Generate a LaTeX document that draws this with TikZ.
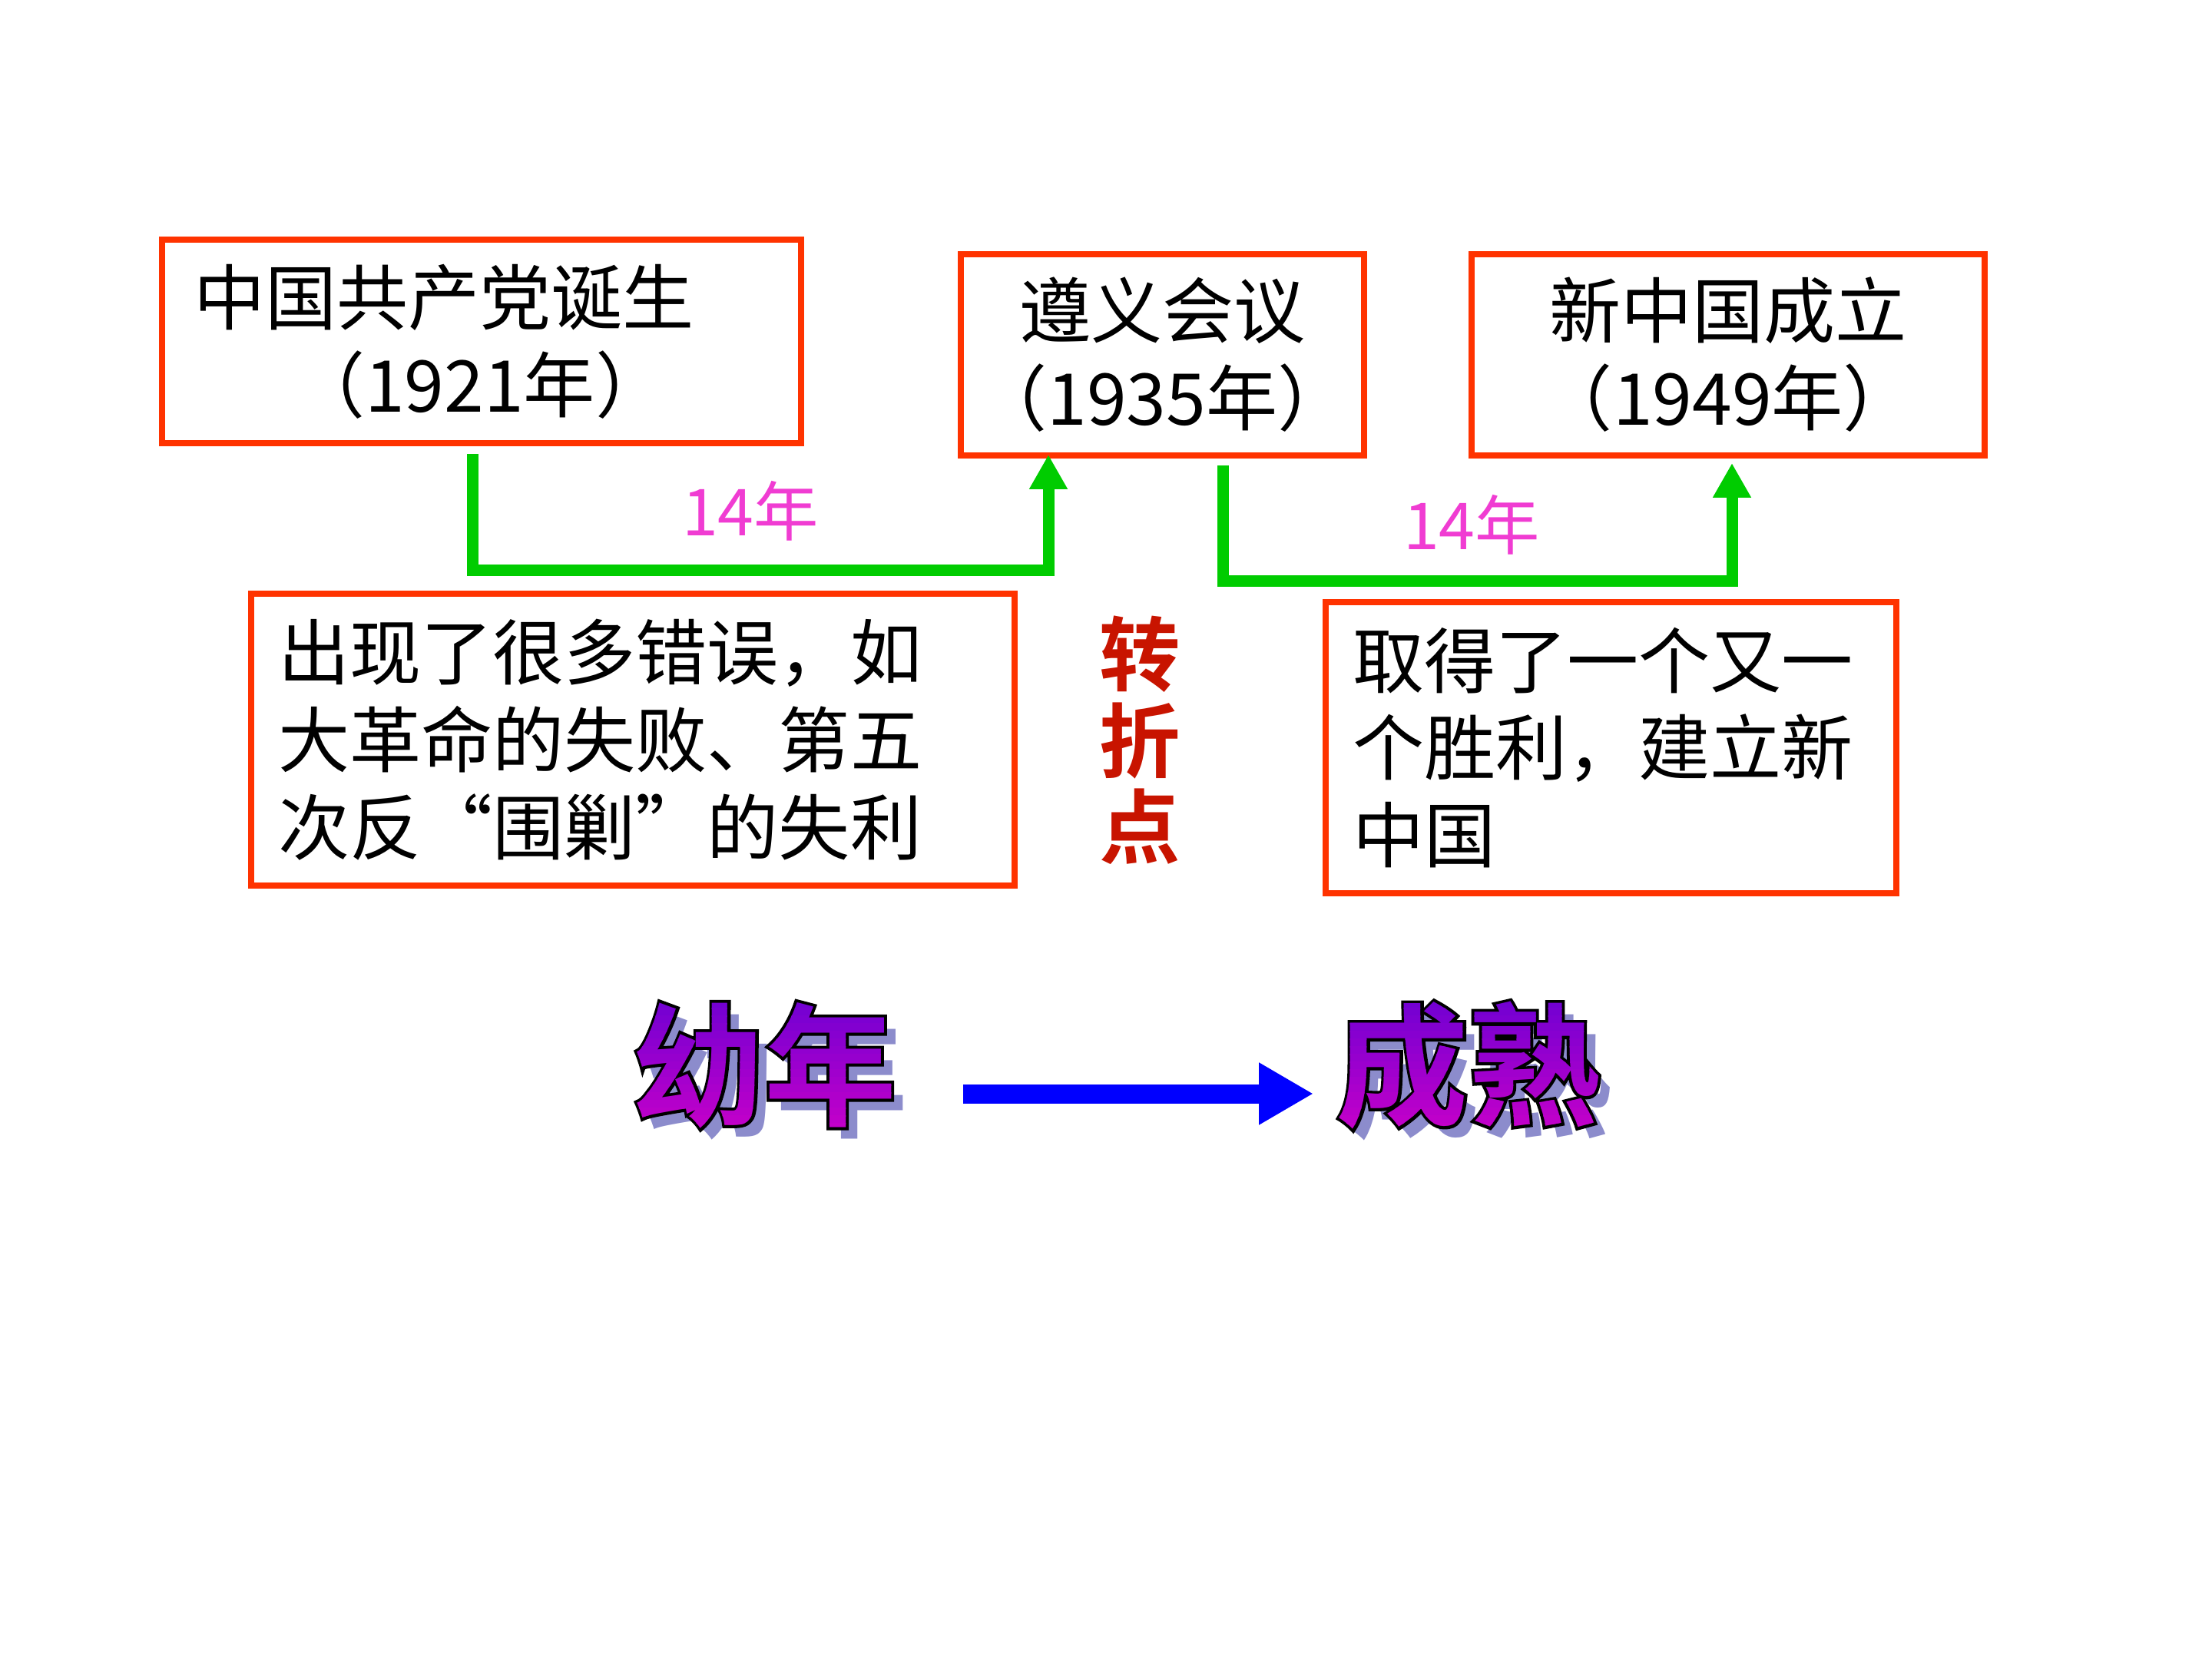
\documentclass[tikz,border=0pt]{standalone}
\usepackage{fontspec}
\usepackage{tikz}
\usetikzlibrary{arrows.meta,positioning,calc}
\newfontfamily\song{Noto Sans CJK SC}
\newfontfamily\heavy{Noto Sans CJK SC Bold}
\newfontfamily\heavyrim{Noto Sans CJK SC Bold}[FakeBold=4.5]
\definecolor{cbox}{RGB}{255,51,0}
\definecolor{cgreen}{RGB}{0,204,0}
\definecolor{cpink}{RGB}{240,60,210}
\definecolor{cturn}{RGB}{200,20,0}
\definecolor{cshadow}{RGB}{140,140,204}
\definecolor{ctop}{RGB}{110,0,210}
\definecolor{cbot}{RGB}{210,0,200}
\newcommand{\boxfont}{\song\fontsize{26.5}{32.4}\selectfont}
\newcommand{\bigfont}{\fontsize{49}{56}\selectfont}

\begin{document}
\begin{tikzpicture}[
  evbox/.style={draw=cbox, line width=0.08cm, inner sep=0pt, font=\boxfont},
  gline/.style={draw=cgreen, line width=0.15cm, -{Triangle[length=0.45cm,width=0.47cm]}},
  bline/.style={draw=blue, line width=0.25cm, -{Triangle[length=0.71cm,width=0.76cm]}},
  gaplbl/.style={text=cpink, font=\song\fontsize{24}{28}\selectfont},
  bigtxt/.style={inner sep=0pt, font=\heavy\bigfont},
]
  \useasboundingbox (0,0) rectangle (28.8,-21.6);

  % events
  \node[evbox, minimum width=8.32cm, minimum height=2.65cm, text width=7.5cm, align=left]
    (ccp) at (6.27,-4.445) {中国共产党诞生\\\hspace*{1.3cm}（1921年）};
  \node[evbox, minimum width=5.25cm, minimum height=2.62cm, align=center]
    (zunyi) at (15.135,-4.62) {遵义会议\\（1935年）};
  \node[evbox, minimum width=6.68cm, minimum height=2.62cm, align=center]
    (newchina) at (22.5,-4.62) {新中国成立\\（1949年）};

  % periods
  \node[evbox, minimum width=9.94cm, minimum height=3.80cm, text width=9.24cm, align=left]
    (mistake) at (8.24,-9.63) {出现了很多错误，如\\大革命的失败、第五\\次反“围剿”的失利};
  \node[evbox, minimum width=7.43cm, minimum height=3.79cm, text width=6.73cm, align=left]
    (victory) at (20.975,-9.735) {取得了一个又一\\个胜利，建立新\\中国};
  \node[text=cturn, align=center, font=\heavy\fontsize{30}{32}\selectfont]
    (turn) at (14.84,-9.64) {转\\折\\点};

  % 14 years each
  \coordinate (s1) at ([xshift=-0.12cm,yshift=-0.1cm]ccp.south);
  \coordinate (e1) at ([xshift=1.18cm,yshift=0.05cm]zunyi.south west);
  \draw[gline] (s1) -- ++(0,-1.52) -| (e1);
  \coordinate (s2) at ([xshift=0.785cm,yshift=-0.09cm]zunyi.south);
  \coordinate (e2) at ([xshift=0.05cm,yshift=-0.06cm]newchina.south);
  \draw[gline] (s2) -- ++(0,-1.51) -| (e2);
  \node[gaplbl] (gap1) at (9.77,-6.65) {14年};
  \node[gaplbl] (gap2) at (19.16,-6.83) {14年};

  % young -> mature
  \node[bigtxt, text=cshadow] (youngsh) at (10.10,-14.02) {幼年};
  \node[bigtxt, text=cshadow] (maturesh) at (19.27,-14.02) {成熟};
  \node[bigtxt, font=\heavyrim\bigfont, text=black] (young) at (9.95,-13.87) {幼年};
  \node[bigtxt, font=\heavyrim\bigfont, text=black] (mature) at (19.12,-13.87) {成熟};
  \foreach \i in {0,...,19}{
    \pgfmathtruncatemacro{\mix}{100-5*\i}
    \begin{scope}
      \clip (0,{-12.92-0.1*\i}) rectangle (28.8,{-13.03-0.1*\i});
      \node[bigtxt, text=ctop!\mix!cbot] (youngf\i) at (young) {幼年};
      \node[bigtxt, text=ctop!\mix!cbot] (maturef\i) at (mature) {成熟};
    \end{scope}
  }
  \draw[bline] ([xshift=0.86cm,yshift=-0.37cm]young.east) -- ([xshift=-0.29cm,yshift=-0.37cm]mature.west);
\end{tikzpicture}
\end{document}
